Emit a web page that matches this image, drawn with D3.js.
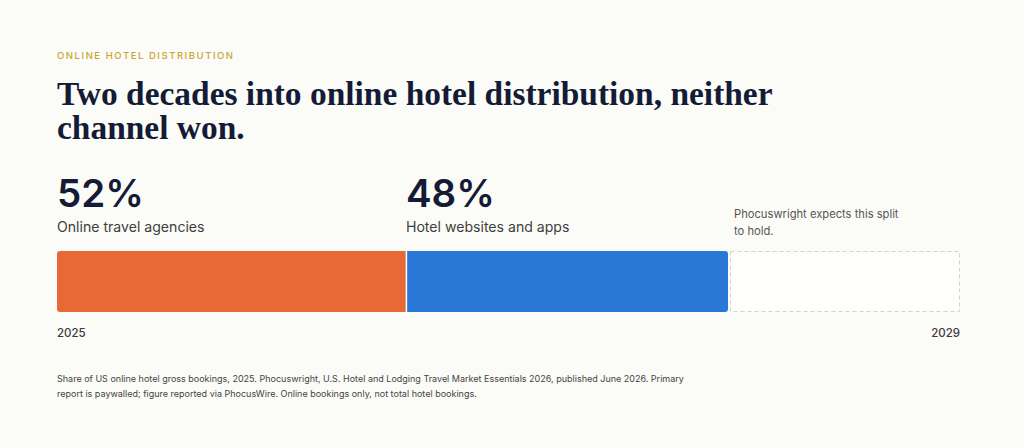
<!DOCTYPE html>
<html>
<head>
<meta charset="utf-8">
<script src="https://cdn.jsdelivr.net/npm/d3@7"></script>
<style>
  html, body { margin: 0; padding: 0; background: #fbfbf8; }
  svg { display: block; }
  text { font-family: Inter, "Noto Sans", sans-serif; }
  text.title { font-family: "Liberation Serif", "DejaVu Serif", serif; }
</style>
</head>
<body>
<svg id="chart" width="1024" height="448"></svg>
<script>
// data
var channels = ["Online travel agencies", "Hotel websites and apps"];
var shares = [52, 48];
var colors = ["#e96936", "#2a78d6"];
var years = ["2025", "2029"];
var kicker = "ONLINE HOTEL DISTRIBUTION";
var titleLines = ["Two decades into online hotel distribution, neither", "channel won."];
var noteLines = ["Phocuswright expects this split", "to hold."];
var sourceLines = [
  "Share of US online hotel gross bookings, 2025. Phocuswright, U.S. Hotel and Lodging Travel Market Essentials 2026, published June 2026. Primary",
  "report is paywalled; figure reported via PhocusWire. Online bookings only, not total hotel bookings."
];

var svg = d3.select("#chart");
var left = 57, right = 960;
var barTop = 251, barH = 61;

// share scale covers the 2025 block, the rest is the projected stretch
var x = d3.scaleLinear().domain([0, 100]).range([left, 728]);
var yearX = d3.scalePoint().domain(years).range([left, right]);

svg.append("text")
  .attr("x", left).attr("y", 59)
  .attr("fill", "#c9a634")
  .attr("font-size", 9.5)
  .attr("font-weight", 500)
  .attr("letter-spacing", 1.55)
  .text(kicker);

var title = svg.append("g");
titleLines.forEach(function (t, i) {
  title.append("text")
    .attr("class", "title")
    .attr("x", left).attr("y", 105 + i * 34)
    .attr("fill", "#141b36")
    .attr("font-weight", 700)
    .attr("font-size", 36)
    .text(t);
});
// fit the first title line to the reference width
var w0 = title.select("text").node().getComputedTextLength();
var fs = 36 * 716 / w0;
title.selectAll("text").attr("font-size", fs);

// stacked share bar
var starts = d3.cumsum([0].concat(shares)).slice(0, shares.length);
var segs = shares.map(function (v, i) {
  return { name: channels[i], value: v, start: starts[i], color: colors[i] };
});

svg.append("clipPath").attr("id", "barclip")
  .append("rect")
  .attr("x", x(0)).attr("y", barTop)
  .attr("width", x(100) - x(0)).attr("height", barH)
  .attr("rx", 3);

svg.append("g").attr("clip-path", "url(#barclip)")
  .selectAll("rect").data(segs).enter().append("rect")
  .attr("x", function (d) { return x(d.start); })
  .attr("y", barTop)
  .attr("width", function (d) { return x(d.start + d.value) - x(d.start); })
  .attr("height", barH)
  .attr("fill", function (d) { return d.color; });

svg.append("line")
  .attr("x1", x(shares[0]) + 0.5).attr("x2", x(shares[0]) + 0.5)
  .attr("y1", barTop).attr("y2", barTop + barH)
  .attr("stroke", "#fff").attr("stroke-width", 1.5);

// projection box
svg.append("rect")
  .attr("x", x(100) + 2.5).attr("y", barTop + 0.5)
  .attr("width", right - x(100) - 3).attr("height", barH - 1)
  .attr("fill", "#fefefc")
  .attr("stroke", "#d2d2d0")
  .attr("stroke-dasharray", "4,3")
  .attr("stroke-width", 1);

// big numbers and labels
var lab = svg.selectAll("g.lab").data(segs).enter().append("g").attr("class", "lab")
  .attr("transform", function (d) { return "translate(" + x(d.start) + ",0)"; });
lab.append("text")
  .attr("y", 207)
  .attr("fill", "#141b36")
  .attr("font-size", 38.5)
  .attr("font-weight", 600)
  .text(function (d) { return d.value + "%"; });
lab.append("text")
  .attr("y", 232)
  .attr("fill", "#3e3e3e")
  .attr("font-size", 14.1)
  .text(function (d) { return d.name; });

svg.selectAll("text.note").data(noteLines).enter().append("text")
  .attr("class", "note")
  .attr("x", x(100) + 6)
  .attr("y", function (d, i) { return 218 + i * 17; })
  .attr("fill", "#555")
  .attr("font-size", 11.2)
  .text(function (d) { return d; });

svg.selectAll("text.year").data(years).enter().append("text")
  .attr("class", "year")
  .attr("x", function (d) { return yearX(d); })
  .attr("y", 337)
  .attr("text-anchor", function (d, i) { return i ? "end" : "start"; })
  .attr("fill", "#3a3a3a")
  .attr("font-size", 11.5)
  .attr("font-weight", 500)
  .text(function (d) { return d; });

svg.selectAll("text.src").data(sourceLines).enter().append("text")
  .attr("class", "src")
  .attr("x", left)
  .attr("y", function (d, i) { return 382 + i * 15; })
  .attr("fill", "#444")
  .attr("font-size", 9)
  .text(function (d) { return d; });
</script>
</body>
</html>
